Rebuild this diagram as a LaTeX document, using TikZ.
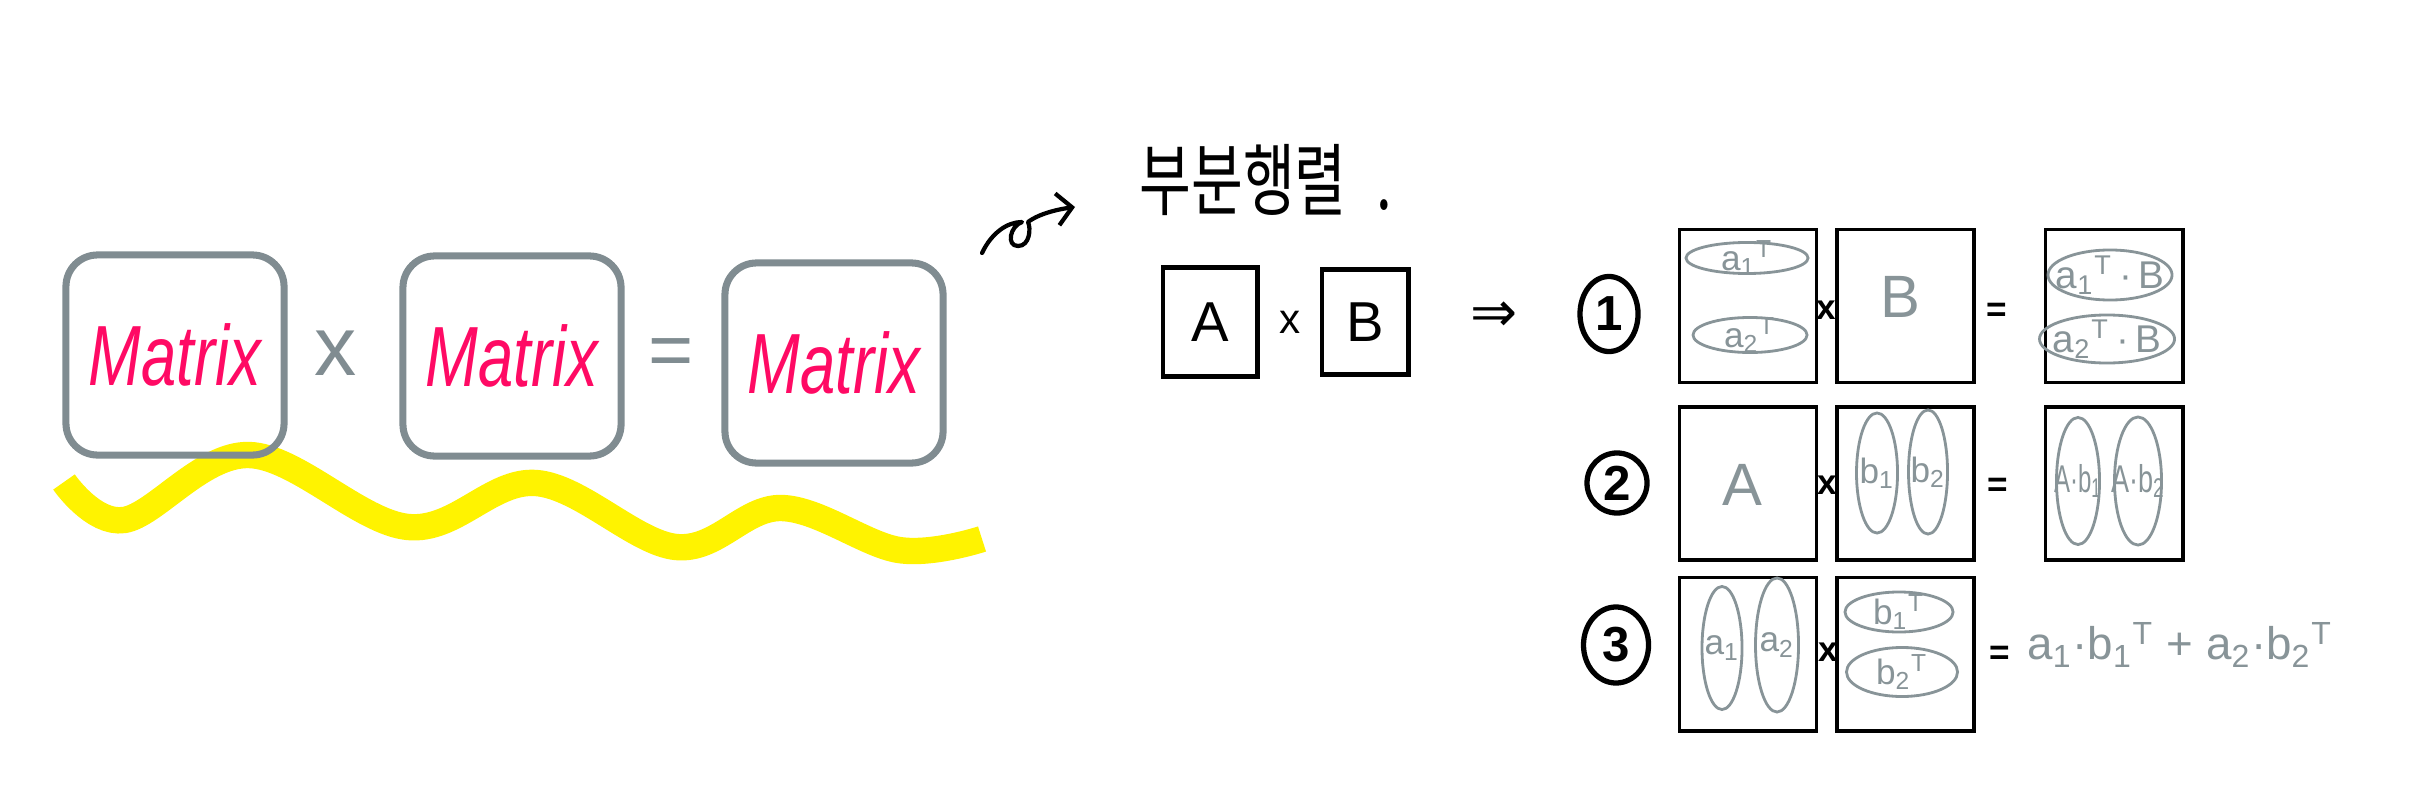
\documentclass[tikz,border=0pt]{standalone}
\usepackage{fontspec}
\setmainfont{Liberation Sans}
\newfontfamily\krfont{Noto Sans CJK KR}
\newfontfamily\symfont{DejaVu Sans}
\usepackage{graphicx}
\usepackage{xcolor}
\usetikzlibrary{arrows.meta,positioning,shapes.geometric}
\definecolor{boxgrey}{RGB}{128,140,145}
\definecolor{inkgrey}{RGB}{136,148,152}
\definecolor{matpink}{RGB}{255,10,100}
\definecolor{hlyellow}{RGB}{255,243,0}
\newcommand{\fsz}[1]{\fontsize{#1}{#1}\selectfont}
\newcommand{\subT}[1]{\textsubscript{#1}\textsuperscript{T}}
\begin{document}
\begin{tikzpicture}[
x=0.01cm, y=-0.01cm,
sketch/.style={draw=boxgrey, line width=2pt, rounded corners=9pt, minimum width=2.18cm, minimum height=2cm, inner sep=0pt, text=matpink, font=\fsz{18}\itshape},
mat/.style={draw, line width=1pt, minimum width=1.37cm, minimum height=1.53cm, inner sep=0pt},
blk/.style={draw, line width=1.4pt, inner sep=0pt, font=\fsz{16}},
num/.style={ellipse, draw, line width=1.5pt, inner sep=0pt, font=\fsz{14}\bfseries},
part/.style={ellipse, draw=inkgrey, line width=0.8pt, inner sep=0pt},
lab/.style={text=inkgrey, inner sep=0pt, font=\fsz{10}},
ink/.style={text=inkgrey, inner sep=0pt},
op/.style={inner sep=0pt, font=\fsz{10}\bfseries}
]
\useasboundingbox (0,0) rectangle (2428,791);

% highlight under the product
\draw[hlyellow, line width=7.5pt] plot[smooth, tension=0.6] coordinates {(64,482) (124,520) (249,455) (408,527) (536,483) (676,547) (781,508) (899,550) (982,539)};

% Matrix x Matrix = Matrix
\node[sketch] (m1) at (175,355) {\scalebox{1}[1.35]{Matrix}};
\node[sketch] (m2) at (512,356) {\scalebox{1}[1.35]{Matrix}};
\node[sketch] (m3) at (834,363) {\scalebox{1}[1.35]{Matrix}};
\node[text=boxgrey, inner sep=0pt, font=\fsz{24}] (mx) at (336,353) {x};
\node[text=boxgrey, inner sep=0pt, font=\fsz{22}] (meq) at (671,358) {=};

% curl pointing at the title
\coordinate (curl0) at (982,253);
\coordinate (curl1) at (1075,207);
\draw[line width=1.2pt, line cap=round, line join=round, -{Straight Barb[length=1.5mm,width=3.2mm]}]
  (curl0) .. controls (992,232) and (1008,222) .. (1022,222)
  .. controls (1010,226) and (1006,246) .. (1018,246)
  .. controls (1030,246) and (1031,228) .. (1028,222)
  .. controls (1040,213) and (1060,209) .. (curl1);

\node[inner sep=0pt, font=\krfont\fsz{16}] (title) at (1266,180) {\scalebox{1}[1.4]{부분행렬\hspace{0.3cm}.}};

\node[blk, minimum width=0.94cm, minimum height=1.09cm] (A) at (1210,322) {A};
\node[blk, minimum width=0.86cm, minimum height=1.05cm, right=0.6cm of A] (B) {B};
\node[inner sep=0pt, font=\fsz{12}] (ab) at (1290,322) {x};
\node[inner sep=0pt, font=\symfont\fsz{16}] (imp) at (1494,317) {⇒};

% case 1: rows of A
\node[num, minimum width=0.58cm, minimum height=0.75cm] (n1) at (1609,314) {1};
\node[mat] (A1) at (1748,306) {};
\node[mat, right=0.17cm of A1] (B1) {};
\node[mat, right=0.68cm of B1] (C1) {};
\node[op] (x1) at (1826,310) {x};
\node[op] (q1) at (1997,312) {=};
\node[part, minimum width=1.22cm, minimum height=0.31cm, label={[lab]center:a\subT1}] (r11) at (1747,258) {};
\node[part, minimum width=1.14cm, minimum height=0.35cm, label={[lab]center:a\subT2}] (r12) at (1750,335) {};
\node[ink, font=\fsz{17}] (bB) at (1900,297) {B};
\node[part, minimum width=1.24cm, minimum height=0.5cm, label={[lab, font=\fsz{11}]center:a\subT1\,·\,B}] (s11) at (2110,275) {};
\node[part, minimum width=1.35cm, minimum height=0.48cm, label={[lab, font=\fsz{11}]center:a\subT2\,·\,B}] (s12) at (2107,339) {};

% case 2: columns of B
\node[num, minimum width=0.6cm, minimum height=0.6cm] (n2) at (1617,483) {2};
\node[mat, below=0.21cm of A1] (A2) {};
\node[mat, right=0.17cm of A2] (B2) {};
\node[mat, right=0.68cm of B2] (C2) {};
\node[op] (x2) at (1827,485) {x};
\node[op] (q2) at (1998,487) {=};
\node[ink, font=\fsz{17}] (aA) at (1742,485) {A};
\node[part, minimum width=0.41cm, minimum height=1.2cm, label={[lab]center:b\textsubscript{1}}] (c21) at (1877,473) {};
\node[part, minimum width=0.39cm, minimum height=1.24cm, label={[lab]center:b\textsubscript{2}}] (c22) at (1928,472) {};
\node[part, minimum width=0.43cm, minimum height=1.27cm, label={[lab, font=\fsz{11}]center:\scalebox{0.62}[1]{A·b\textsubscript{1}}}] (s21) at (2078,481) {};
\node[part, minimum width=0.47cm, minimum height=1.28cm, label={[lab, font=\fsz{11}]center:\scalebox{0.7}[1]{A·b\textsubscript{2}}}] (s22) at (2138,481) {};

% case 3: columns times rows
\node[num, minimum width=0.65cm, minimum height=0.76cm] (n3) at (1616,645) {3};
\node[mat, below=0.14cm of A2] (A3) {};
\node[mat, right=0.17cm of A3] (B3) {};
\node[op] (x3) at (1828,652) {x};
\node[op] (q3) at (2000,655) {=};
\node[part, minimum width=0.4cm, minimum height=1.23cm, label={[lab]center:a\textsubscript{1}}] (c31) at (1722,648) {};
\node[part, minimum width=0.43cm, minimum height=1.34cm, label={[lab]center:a\textsubscript{2}}] (c32) at (1777,645) {};
\node[part, minimum width=1.08cm, minimum height=0.4cm, label={[lab]center:b\subT1}] (r31) at (1899,612) {};
\node[part, minimum width=1.11cm, minimum height=0.49cm, label={[lab]center:b\subT2}] (r32) at (1902,672) {};
\node[ink, font=\fsz{13}] (sum) at (2180,645) {a\textsubscript{1}·b\subT1 + a\textsubscript{2}·b\subT2};
\end{tikzpicture}
\end{document}
